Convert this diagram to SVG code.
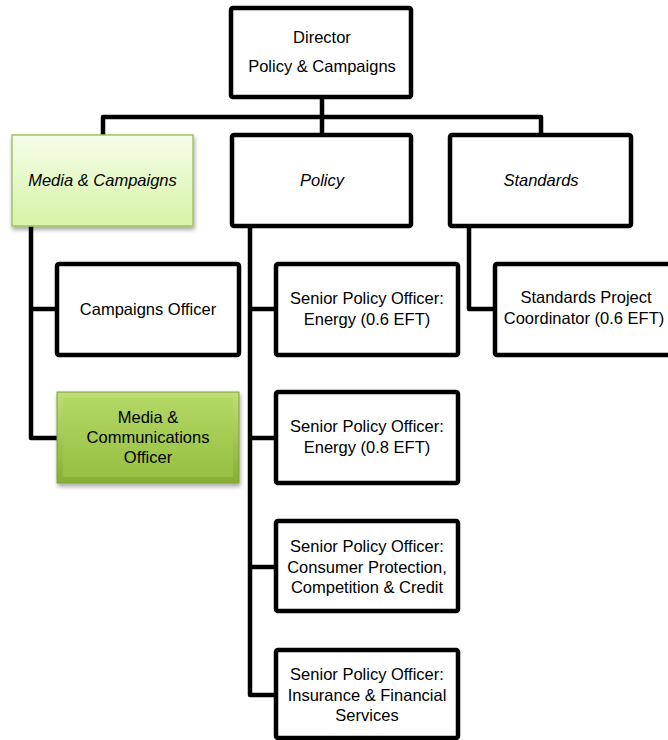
<svg xmlns="http://www.w3.org/2000/svg" width="668" height="740" viewBox="0 0 668 740">
<defs>
<linearGradient id="gLight" x1="0" y1="0" x2="0" y2="1">
<stop offset="0" stop-color="#f5fde9"/>
<stop offset="1" stop-color="#d6f4a6"/>
</linearGradient>
<linearGradient id="gDark" x1="0" y1="0" x2="0" y2="1">
<stop offset="0" stop-color="#c0df78"/>
<stop offset="1" stop-color="#87ae34"/>
</linearGradient>
<linearGradient id="gDarkIn" x1="0" y1="0" x2="0" y2="1">
<stop offset="0" stop-color="#b2d764"/>
<stop offset="1" stop-color="#97c043"/>
</linearGradient>
<filter id="shadow" x="-10%" y="-10%" width="125%" height="130%">
<feDropShadow dx="1" dy="3" stdDeviation="2.2" flood-color="#000" flood-opacity="0.35"/>
</filter>
</defs>
<style>
.box{fill:#fff;stroke:#000;stroke-width:4.5}
.conn{fill:none;stroke:#000;stroke-width:4.5;stroke-linejoin:round}
text{font-family:"Liberation Sans",Arial,sans-serif;font-size:16.5px;fill:#000;text-anchor:middle}
.it{font-style:italic}
</style>
<rect width="668" height="740" fill="#fff"/>
<g id="connectors">
<path class="conn" d="M322 99V117"/>
<path class="conn" d="M103 135V117H541V133"/>
<path class="conn" d="M322 117V133"/>
<path class="conn" d="M31 226V438H57"/>
<path class="conn" d="M31 309H55"/>
<path class="conn" d="M250 228V695H274"/>
<path class="conn" d="M250 309H274"/>
<path class="conn" d="M250 438H274"/>
<path class="conn" d="M250 567H274"/>
<path class="conn" d="M469 228V309H493"/>
</g>
<g id="director">
<rect class="box" x="231" y="8" width="180" height="89" rx="2"/>
<text x="322" y="43">Director</text>
<text x="322" y="72">Policy &amp; Campaigns</text>
</g>
<g id="media-campaigns">
<rect x="12" y="135" width="181" height="91" fill="url(#gLight)" stroke="#a3c266" stroke-width="1.5" filter="url(#shadow)"/>
<text class="it" x="102.5" y="186">Media &amp; Campaigns</text>
</g>
<g id="policy">
<rect class="box" x="232" y="135" width="179" height="91" rx="2"/>
<text class="it" x="322" y="186">Policy</text>
</g>
<g id="standards">
<rect class="box" x="450" y="135" width="181" height="91" rx="2"/>
<text class="it" x="541" y="186">Standards</text>
</g>
<g id="campaigns-officer">
<rect class="box" x="57" y="264" width="182" height="91" rx="2"/>
<text x="148" y="315">Campaigns Officer</text>
</g>
<g id="media-comms-officer">
<g filter="url(#shadow)">
<rect x="57" y="392" width="182" height="91" fill="url(#gDark)" stroke="#7f9f3a" stroke-width="1"/>
<rect x="63" y="398" width="170" height="79" fill="url(#gDarkIn)"/>
</g>
<text x="148" y="423">Media &amp;</text>
<text x="148" y="443">Communications</text>
<text x="148" y="463">Officer</text>
</g>
<g id="spo-energy-06">
<rect class="box" x="276" y="264" width="182" height="91" rx="2"/>
<text x="367" y="304">Senior Policy Officer:</text>
<text x="367" y="325">Energy (0.6 EFT)</text>
</g>
<g id="spo-energy-08">
<rect class="box" x="276" y="392" width="182" height="91" rx="2"/>
<text x="367" y="432">Senior Policy Officer:</text>
<text x="367" y="453">Energy (0.8 EFT)</text>
</g>
<g id="spo-consumer">
<rect class="box" x="276" y="521" width="182" height="90" rx="2"/>
<text x="367" y="552">Senior Policy Officer:</text>
<text x="367" y="572.5">Consumer Protection,</text>
<text x="367" y="593">Competition &amp; Credit</text>
</g>
<g id="spo-insurance">
<rect class="box" x="276" y="650" width="182" height="88" rx="2"/>
<text x="367" y="680">Senior Policy Officer:</text>
<text x="367" y="700.5">Insurance &amp; Financial</text>
<text x="367" y="721">Services</text>
</g>
<g id="standards-coordinator">
<rect class="box" x="495" y="264" width="182" height="91" rx="2"/>
<text x="586" y="303">Standards Project</text>
<text x="584" y="324">Coordinator (0.6 EFT)</text>
</g>
</svg>
